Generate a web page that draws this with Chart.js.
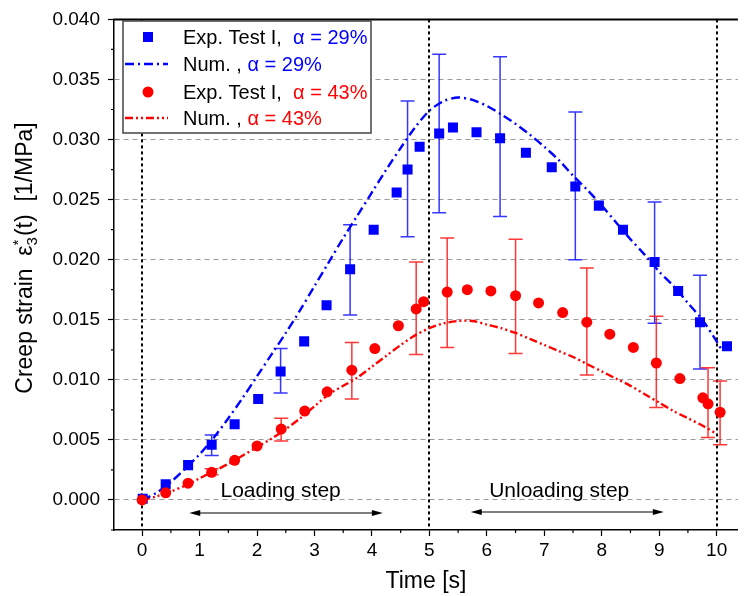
<!DOCTYPE html>
<html>
<head>
<meta charset="utf-8">
<script src="https://cdn.jsdelivr.net/npm/chart.js@4.4.1/dist/chart.umd.min.js"></script>
<style>
  html, body { margin: 0; padding: 0; background: #fff; }
  #wrap { width: 745px; height: 596px; }
</style>
</head>
<body>
<div id="wrap"><canvas id="chart" width="745" height="596"></canvas></div>
<script>
// experiment, alpha = 29 %
const blueTime = [0.01, 0.41, 0.80, 1.21, 1.61, 2.02, 2.41, 2.82, 3.21, 3.62, 4.03, 4.43, 4.62, 4.83,
  5.17, 5.41, 5.82, 6.23, 6.68, 7.13, 7.54, 7.95, 8.37, 8.92, 9.33, 9.71, 10.18];
const blueStrain = [0.0001, 0.0013, 0.0029, 0.0046, 0.0063, 0.0084, 0.0107, 0.0132, 0.0162, 0.0192, 0.0225, 0.0256, 0.0275, 0.0294,
  0.0305, 0.0310, 0.0306, 0.0301, 0.0289, 0.0277, 0.0261, 0.0245, 0.0225, 0.0198, 0.0174, 0.0148, 0.0128];
const blueErrLow = [null, null, null, 0.0037, null, null, 0.0089, null, null, 0.0154, null, null, 0.0219, null,
  0.0239, null, null, 0.0236, null, null, 0.0200, null, null, 0.0147, null, 0.0109, null];
const blueErrHigh = [null, null, null, 0.0054, null, null, 0.0126, null, null, 0.0229, null, null, 0.0332, null,
  0.0371, null, null, 0.0369, null, null, 0.0323, null, null, 0.0248, null, 0.0187, null];

// experiment, alpha = 43 %
const redTime = [0.00, 0.41, 0.80, 1.21, 1.61, 2.00, 2.42, 2.83, 3.22, 3.65, 4.05, 4.46, 4.77, 4.90,
  5.31, 5.66, 6.07, 6.50, 6.90, 7.32, 7.74, 8.14, 8.55, 8.95, 9.36, 9.76, 9.85, 10.06];
const redStrain = [0.0000, 0.0006, 0.0014, 0.0023, 0.0033, 0.0045, 0.0059, 0.0074, 0.0090, 0.0108, 0.0126, 0.0145, 0.0159, 0.0165,
  0.0173, 0.0175, 0.0174, 0.0170, 0.0164, 0.0156, 0.0148, 0.0138, 0.0127, 0.0114, 0.0101, 0.0085, 0.0080, 0.0073];
const redErrLow = [null, null, null, 0.0021, null, null, 0.0049, null, null, 0.0084, null, null, 0.0121, null,
  0.0127, null, null, 0.0122, null, null, 0.0104, null, null, 0.0077, null, null, 0.0052, 0.0046];
const redErrHigh = [null, null, null, 0.0026, null, null, 0.0068, null, null, 0.0131, null, null, 0.0198, null,
  0.0218, null, null, 0.0217, null, null, 0.0193, null, null, 0.0153, null, null, 0.0110, 0.0099];

// numerical curves
const numBlueTime = [0, 0.25, 0.5, 0.75, 1, 1.25, 1.5, 1.75, 2, 2.25, 2.5, 2.75, 3, 3.25, 3.5, 3.75, 4, 4.25, 4.5, 4.75,
  5, 5.25, 5.5, 5.75, 6, 6.25, 6.5, 6.75, 7, 7.25, 7.5, 7.75, 8, 8.25, 8.5, 8.75, 9, 9.25, 9.5, 9.75, 10, 10.1];
const numBlueStrain = [0, 0.0006, 0.0015, 0.0026, 0.0038, 0.0052, 0.0068, 0.0085, 0.0103, 0.0121, 0.0139, 0.0158, 0.0178, 0.0198,
  0.0218, 0.0237, 0.0256, 0.0275, 0.0293, 0.0310, 0.0324, 0.0332, 0.0335, 0.0333, 0.0328, 0.0321, 0.0313, 0.0304,
  0.0294, 0.0283, 0.0270, 0.0258, 0.0245, 0.0231, 0.0217, 0.0204, 0.0190, 0.0178, 0.0164, 0.0150, 0.0132, 0.0124];
const numRedTime = [0, 0.25, 0.5, 0.75, 1, 1.25, 1.5, 1.75, 2, 2.25, 2.5, 2.75, 3, 3.25, 3.5, 3.75, 4, 4.25, 4.5, 4.75,
  5, 5.25, 5.5, 5.75, 6, 6.25, 6.5, 6.75, 7, 7.25, 7.5, 7.75, 8, 8.25, 8.5, 8.75, 9, 9.25, 9.5, 9.75, 10];
const numRedStrain = [0, 0.0003, 0.0007, 0.0012, 0.0018, 0.0024, 0.0030, 0.0037, 0.0044, 0.0051, 0.0059, 0.0068, 0.0078, 0.0088,
  0.0095, 0.0102, 0.0111, 0.0120, 0.0129, 0.0137, 0.0143, 0.0147, 0.0149, 0.0149, 0.0146, 0.0143, 0.0139, 0.0134,
  0.0129, 0.0124, 0.0119, 0.0113, 0.0107, 0.0101, 0.0095, 0.0088, 0.0081, 0.0074, 0.0068, 0.0062, 0.0055];

const xTicks = [0, 1, 2, 3, 4, 5, 6, 7, 8, 9, 10];
const yTicks = [0, 0.005, 0.010, 0.015, 0.020, 0.025, 0.030, 0.035, 0.040];
const stepLines = [0, 5, 10];

const BLUE = '#0000FF';
const RED = '#FF0000';
const FONT = '"Liberation Sans", Arial, sans-serif';

const pts = (xs, ys) => xs.map((x, i) => ({x, y: ys[i]}));

function arrow(ctx, x1, x2, y) {
  ctx.beginPath();
  ctx.moveTo(x1 + 4, y);
  ctx.lineTo(x2 - 4, y);
  ctx.stroke();
  [[x1, 1], [x2, -1]].forEach(([x, d]) => {
    ctx.beginPath();
    ctx.moveTo(x, y);
    ctx.lineTo(x + d * 11, y - 3);
    ctx.lineTo(x + d * 11, y + 3);
    ctx.closePath();
    ctx.fill();
  });
}

const decor = {
  id: 'decor',
  beforeDatasetsDraw(chart) {
    const {ctx, chartArea: a, scales: {x, y}} = chart;
    ctx.save();
    // vertical dotted lines at start / switch / end
    ctx.strokeStyle = '#000';
    ctx.lineWidth = 2;
    ctx.setLineDash([3, 3]);
    stepLines.forEach(t => {
      const px = Math.round(x.getPixelForValue(t));
      ctx.beginPath();
      ctx.moveTo(px, a.top);
      ctx.lineTo(px, a.bottom);
      ctx.stroke();
    });
    ctx.setLineDash([]);
    // error bars
    const bars = (times, lo, hi, color) => {
      ctx.strokeStyle = color;
      ctx.lineWidth = 1.5;
      times.forEach((t, i) => {
        if (lo[i] == null) return;
        const px = x.getPixelForValue(t);
        const y1 = y.getPixelForValue(lo[i]);
        const y2 = y.getPixelForValue(hi[i]);
        ctx.beginPath();
        ctx.moveTo(px, y1); ctx.lineTo(px, y2);
        ctx.moveTo(px - 7, y1); ctx.lineTo(px + 7, y1);
        ctx.moveTo(px - 7, y2); ctx.lineTo(px + 7, y2);
        ctx.stroke();
      });
    };
    bars(blueTime, blueErrLow, blueErrHigh, 'rgba(20,20,255,0.85)');
    bars(redTime, redErrLow, redErrHigh, 'rgba(255,20,20,0.85)');
    ctx.restore();
  },
  afterDraw(chart) {
    const {ctx, chartArea: a, scales: {x, y}} = chart;
    ctx.save();
    // top frame line
    ctx.strokeStyle = '#000';
    ctx.lineWidth = 2;
    ctx.beginPath();
    ctx.moveTo(a.left - 1, a.top);
    ctx.lineTo(a.right, a.top);
    ctx.stroke();

    // minor ticks
    ctx.lineWidth = 1.2;
    ctx.beginPath();
    for (let v = 0.5; v < 10.4; v += 1) {
      const px = x.getPixelForValue(v);
      ctx.moveTo(px, a.bottom); ctx.lineTo(px, a.bottom + 3);
    }
    for (let v = -0.0025; v < 0.04; v += 0.005) {
      const py = y.getPixelForValue(v);
      ctx.moveTo(a.left, py); ctx.lineTo(a.left - 3, py);
    }
    ctx.stroke();

    // step annotations
    ctx.fillStyle = '#000';
    ctx.lineWidth = 1.2;
    ctx.font = '21px ' + FONT;
    ctx.textAlign = 'center';
    ctx.textBaseline = 'alphabetic';
    ctx.fillText('Loading step', x.getPixelForValue(2.41), 497);
    ctx.fillText('Unloading step', x.getPixelForValue(7.26), 497);
    arrow(ctx, x.getPixelForValue(0.82), x.getPixelForValue(4.19), 513);
    arrow(ctx, x.getPixelForValue(5.72), x.getPixelForValue(9.08), 512);

    // x title
    ctx.font = '23px ' + FONT;
    ctx.fillText('Time [s]', (a.left + a.right) / 2, 588);

    // y title with sub/superscript
    ctx.save();
    ctx.translate(32, 258);
    ctx.rotate(-Math.PI / 2);
    ctx.textAlign = 'left';
    const big = '23px ' + FONT, small = '15px ' + FONT;
    const p1 = 'Creep strain  \u03b5', p2 = '(t)  [1/MPa]';
    ctx.font = big;
    const w1 = ctx.measureText(p1).width, w2 = ctx.measureText(p2).width;
    ctx.font = small;
    const ws = Math.max(ctx.measureText('*').width, ctx.measureText('3').width) + 1;
    let cx = -(w1 + ws + w2) / 2;
    ctx.font = big;
    ctx.fillText(p1, cx, 0);
    cx += w1;
    ctx.font = small;
    ctx.fillText('*', cx, -9);
    ctx.fillText('3', cx, 5);
    cx += ws;
    ctx.font = big;
    ctx.fillText(p2, cx, 0);
    ctx.restore();

    // legend
    ctx.fillStyle = '#fff';
    ctx.fillRect(123, 21, 248, 112);
    ctx.strokeStyle = '#444';
    ctx.lineWidth = 1.5;
    ctx.strokeRect(123, 21, 248, 112);
    const rows = [
      {y: 37, label: 'Exp. Test I,  ', tail: '\u03b1 = 29%', color: BLUE, kind: 'square'},
      {y: 64, label: 'Num. , ', tail: '\u03b1 = 29%', color: BLUE, kind: 'line', dash: [9, 4, 2, 4]},
      {y: 92, label: 'Exp. Test I,  ', tail: '\u03b1 = 43%', color: RED, kind: 'circle'},
      {y: 118, label: 'Num. , ', tail: '\u03b1 = 43%', color: RED, kind: 'line', dash: [8, 3, 2, 3, 2, 3]}
    ];
    ctx.font = '20px ' + FONT;
    ctx.textAlign = 'left';
    ctx.textBaseline = 'middle';
    rows.forEach(r => {
      ctx.fillStyle = r.color;
      ctx.strokeStyle = r.color;
      if (r.kind === 'square') ctx.fillRect(143, r.y - 5, 10, 10);
      if (r.kind === 'circle') {
        ctx.beginPath(); ctx.arc(148, r.y, 5.5, 0, Math.PI * 2); ctx.fill();
      }
      if (r.kind === 'line') {
        ctx.lineWidth = 2.4;
        ctx.setLineDash(r.dash);
        ctx.beginPath(); ctx.moveTo(125, r.y); ctx.lineTo(168, r.y); ctx.stroke();
        ctx.setLineDash([]);
      }
      ctx.fillStyle = '#000';
      ctx.fillText(r.label, 183, r.y + 1);
      const lw = ctx.measureText(r.label).width;
      ctx.fillStyle = r.color;
      ctx.fillText(r.tail, 183 + lw, r.y + 1);
    });
    ctx.restore();
  }
};

new Chart(document.getElementById('chart'), {
  type: 'scatter',
  data: {
    datasets: [
      {
        label: 'Exp. Test I, \u03b1 = 43%',
        data: pts(redTime, redStrain),
        pointStyle: 'circle',
        pointRadius: 5.5,
        backgroundColor: RED,
        borderWidth: 0,
        order: 0
      },
      {
        label: 'Exp. Test I, \u03b1 = 29%',
        data: pts(blueTime, blueStrain),
        pointStyle: 'rect',
        pointRadius: 7.1,
        backgroundColor: BLUE,
        borderWidth: 0,
        order: 1
      },
      {
        label: 'Num. , \u03b1 = 29%',
        data: pts(numBlueTime, numBlueStrain),
        showLine: true,
        pointRadius: 0,
        borderColor: BLUE,
        borderWidth: 2.4,
        borderDash: [9, 4, 2, 4],
        tension: 0.3,
        order: 2
      },
      {
        label: 'Num. , \u03b1 = 43%',
        data: pts(numRedTime, numRedStrain),
        showLine: true,
        pointRadius: 0,
        borderColor: RED,
        borderWidth: 2.4,
        borderDash: [8, 3, 2, 3, 2, 3],
        tension: 0.3,
        order: 3
      }
    ]
  },
  options: {
    responsive: false,
    animation: false,
    devicePixelRatio: 1,
    layout: { padding: { top: 14, right: 0, bottom: 0, left: 0 } },
    plugins: {
      legend: { display: false },
      tooltip: { enabled: false }
    },
    scales: {
      x: {
        type: 'linear',
        min: -0.49,
        max: 10.37,
        afterFit: s => { s.height = 66; },
        afterBuildTicks: s => { s.ticks = xTicks.map(v => ({value: v})); },
        grid: { drawOnChartArea: false, tickLength: 6, tickColor: '#000', tickWidth: 1.2 },
        border: { color: '#000', width: 1.5 },
        ticks: {
          color: '#000',
          font: { family: FONT, size: 19 },
          padding: 3,
          maxRotation: 0,
          autoSkip: false
        }
      },
      y: {
        type: 'linear',
        min: -0.0025,
        max: 0.040,
        afterFit: s => { s.width = 114; },
        afterBuildTicks: s => { s.ticks = yTicks.map(v => ({value: v})); },
        grid: {
          color: c => (c.tick && c.tick.value >= 0.0399 ? 'rgba(0,0,0,0)' : '#9a9a9a'),
          lineWidth: 1,
          tickLength: 6,
          tickColor: '#000',
          tickWidth: 1.2
        },
        border: { color: '#000', width: 1.5, dash: [5, 4] },
        ticks: {
          color: '#000',
          font: { family: FONT, size: 19 },
          padding: 8,
          autoSkip: false,
          callback: v => v.toFixed(3)
        }
      }
    }
  },
  plugins: [decor]
});
</script>
</body>
</html>
